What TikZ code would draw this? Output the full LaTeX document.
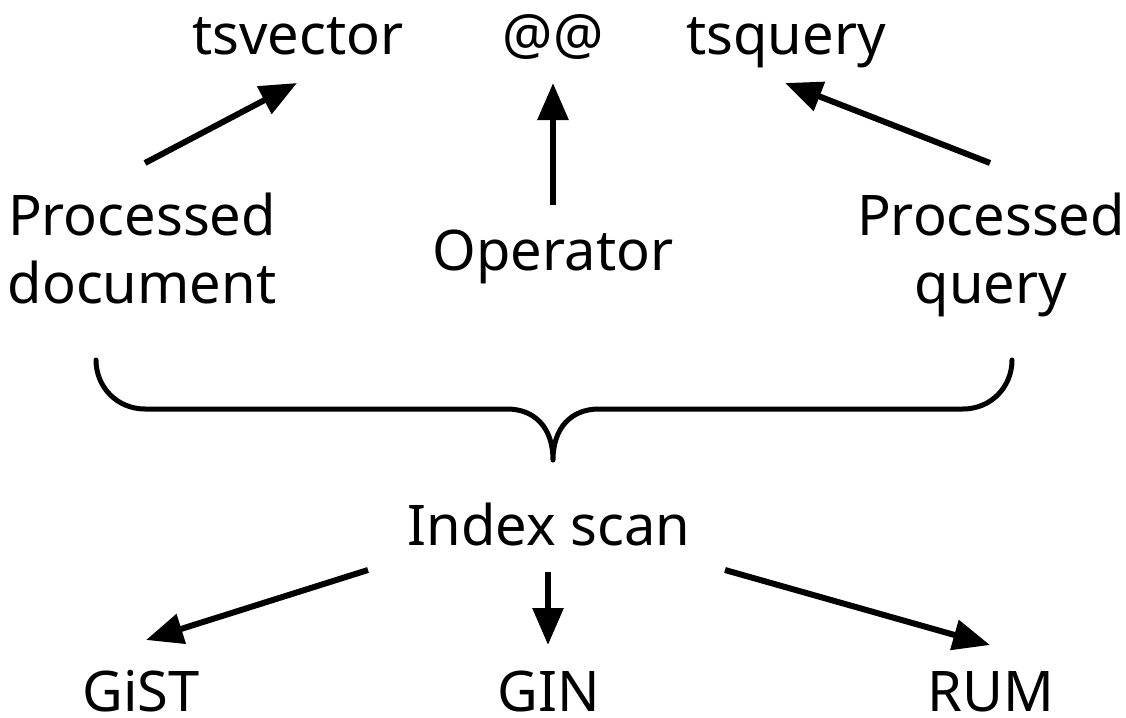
\documentclass[tikz,border=0pt]{standalone}
\usepackage{fontspec}
\setmainfont{Noto Sans}
\usetikzlibrary{arrows.meta}
\begin{document}
\begin{tikzpicture}[x=1pt,y=-1pt,
  lbl/.style={inner sep=0pt,font=\fontsize{56}{68}\selectfont,align=center},
  arr/.style={line width=6pt,-{Triangle[length=37pt,width=30pt]}},
  brace/.style={line width=5pt,line cap=round,line join=round}]
\useasboundingbox (0,0) rectangle (1126,717);

% top row: the match expression
\node[lbl,anchor=base] (tsv) at (298,55) {tsvector};
\node[lbl,anchor=base] (op)  at (553,55) {@@};
\node[lbl,anchor=base] (tsq) at (786,55) {tsquery};

% middle row: what each part is
\node[lbl,anchor=north] (pd)  at (142,193) {Processed\\document};
\node[lbl,anchor=base]  (opr) at (553,270) {Operator};
\node[lbl,anchor=north] (pq)  at (991,193) {Processed\\query};

% index scan and access methods
\node[lbl,anchor=base] (idx)  at (549,545) {Index scan};
\node[lbl,anchor=base] (gist) at (141,711) {GiST};
\node[lbl,anchor=base] (gin)  at (549,711) {GIN};
\node[lbl,anchor=base] (rum)  at (991,711) {RUM};

% arrows up to the expression
\draw[arr] ([shift={(3,-30)}]pd.north) -- ([shift={(-1,28)}]tsv.base);
\draw[arr] ([shift={(0,-65)}]opr.base) -- ([shift={(0,28)}]op.base);
\draw[arr] ([shift={(-1,-30)}]pq.north) -- ([shift={(-1,28)}]tsq.base);

% arrows down to the index types
\draw[arr] ([shift={(-181,25)}]idx.base) -- ([shift={(5,-71)}]gist.base);
\draw[arr] ([shift={(-1,27)}]idx.base) -- ([shift={(-1,-66)}]gin.base);
\draw[arr] ([shift={(176,25)}]idx.base) -- ([shift={(-1,-66)}]rum.base);

% curly brace gathering the three parts
\draw[brace] (96,360) .. controls (96,387) and (117,409) .. (145,409)
  -- (507,409) .. controls (535,409) and (553,428) .. (553,460)
  .. controls (553,428) and (571,409) .. (599,409)
  -- (963,409) .. controls (991,409) and (1012,387) .. (1012,360);
\end{tikzpicture}
\end{document}
